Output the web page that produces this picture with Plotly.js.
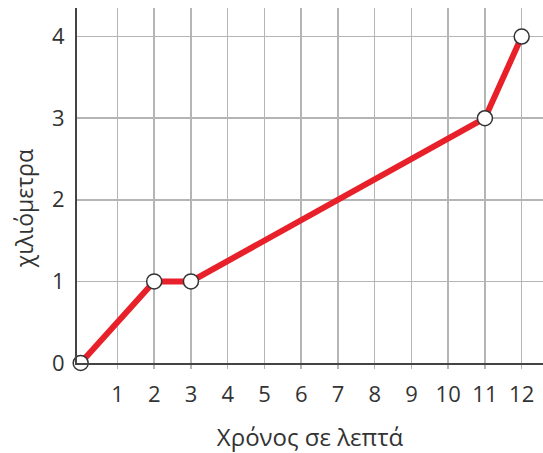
<!DOCTYPE html>
<html>
<head>
<meta charset="utf-8">
<script src="https://cdn.plot.ly/plotly-3.0.1.min.js"></script>
<style>html,body{margin:0;padding:0;background:#fff;}#chart{width:543px;height:453px;}</style>
</head>
<body>
<div id="chart"></div>
<script>
const minutes = [0, 2, 3, 11, 12];
const kilometres = [0, 1, 1, 3, 4];
const xTickVals = [1,2,3,4,5,6,7,8,9,10,11,12];
const xTickText = ['1','2','3','4','5','6','7','8','9','10','11','12'];
const yTickVals = [0,1,2,3,4];
const yTickText = ['0','1','2','3','4'];
const xTitle = 'Χρόνος σε λεπτά';
const yTitle = 'χιλιόμετρα';

const trace = {
  x: minutes, y: kilometres, type: 'scatter', mode: 'lines+markers',
  line: {color: '#e8202a', width: 6},
  marker: {size: 15, color: '#ffffff', line: {color: '#333333', width: 1.5}},
  cliponaxis: false, hoverinfo: 'none'
};
const layout = {
  width: 543, height: 453,
  margin: {l: 77, r: 0, t: 8, b: 90},
  paper_bgcolor: '#fff', plot_bgcolor: '#fff',
  font: {family: '"Open Sans", "Noto Sans", sans-serif', color: '#333', size: 22},
  showlegend: false,
  xaxis: {
    range: [-0.1, 12.58], tickvals: xTickVals, ticktext: xTickText,
    showgrid: true, gridcolor: '#b5b5b5', gridwidth: 1.5,
    showline: true, linecolor: '#444', linewidth: 2,
    ticks: 'outside', ticklen: 4, tickcolor: '#b5b5b5', tickwidth: 1.5,
    ticklabelstandoff: 7,
    zeroline: false, tickfont: {size: 22, color: '#333'},
    title: {text: xTitle, font: {size: 24, color: '#333'}, standoff: 25},
    automargin: false, fixedrange: true
  },
  yaxis: {
    range: [0, 4.35], tickvals: yTickVals, ticktext: yTickText,
    showgrid: true, gridcolor: '#b5b5b5', gridwidth: 1.5,
    showline: true, linecolor: '#444', linewidth: 2,
    ticks: '', zeroline: false, tickfont: {size: 22, color: '#333'},
    ticklabelstandoff: 6,
    automargin: false, fixedrange: true
  },
  annotations: [{
    text: yTitle, xref: 'paper', yref: 'paper',
    x: -0.113, y: 0.434, xanchor: 'center', yanchor: 'middle',
    textangle: -90, showarrow: false,
    font: {size: 23, color: '#333'}
  }]
};
Plotly.newPlot('chart', [trace], layout, {staticPlot: true, displayModeBar: false});
</script>
</body>
</html>
